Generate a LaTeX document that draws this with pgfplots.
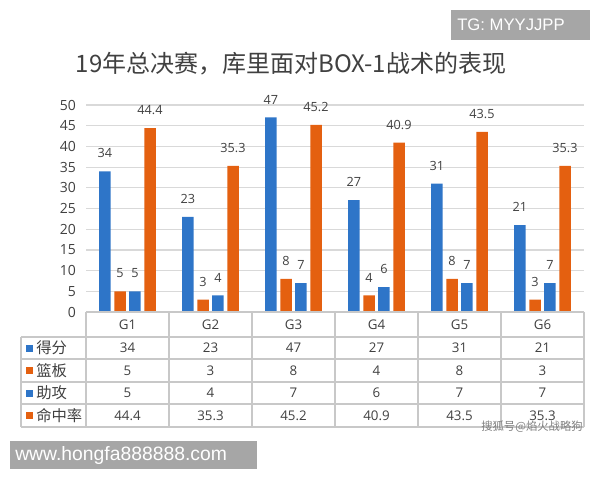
\documentclass[border=0pt]{standalone}
\usepackage{pgfplots}
\usepackage{pgfplotstable}
\pgfplotsset{compat=1.18}
\usepackage{fontspec}
\setmainfont{Open Sans}
\newfontfamily\cjk{Noto Sans CJK SC}
\newfontfamily\arial{Liberation Sans}

\definecolor{cblue}{RGB}{46,117,200}
\definecolor{corange}{RGB}{228,96,16}
\definecolor{gridc}{RGB}{217,217,217}
\definecolor{tabc}{RGB}{200,200,200}
\definecolor{txt}{RGB}{64,64,64}
\definecolor{wm}{RGB}{166,166,166}

% 1 px of the reference = 0.75pt
\def\px#1{#1*0.75pt}

\pgfplotstableread{
g score reb ast fg
0 34 5 5 44.4
1 23 3 4 35.3
2 47 8 7 45.2
3 27 4 6 40.9
4 31 8 7 43.5
5 21 3 7 35.3
}\data

\begin{document}
\begin{tikzpicture}
\path[use as bounding box] (0,0) rectangle (450pt,-360pt);

% title
\node[text=txt, font=\cjk\fontsize{18}{20}\selectfont] at (\px{291},-\px{64})
  {19年总决赛，库里面对BOX-1战术的表现};

\begin{axis}[
    at={(\px{86},-\px{312})}, anchor=south west,
    scale only axis, width=373.5pt, height=155.25pt,
    xmin=-0.5, xmax=5.5, ymin=0, ymax=50,
    ytick={0,5,...,50},
    xtick={0,...,5}, xticklabels={G1,G2,G3,G4,G5,G6},
    axis line style={draw=none}, major tick length=0pt,
    ymajorgrids, grid style={gridc, line width=0.9pt},
    tick label style={font=\fontsize{10.5}{12}\selectfont, text=txt},
    xticklabel style={font=\fontsize{10}{12}\selectfont},
    /pgf/number format/assume math mode=true,
    yticklabel style={xshift=-4pt},
    xticklabel style={anchor=center, yshift=-9.4pt},
    clip=false,
    bar width=8.6pt,
    every node near coord/.append style={font=\fontsize{9.5}{11}\selectfont, text=txt},
  ]
  % bars
  \addplot[ybar, bar shift=-16.9pt, fill=cblue, draw=none,
    nodes near coords, nodes near coords style={anchor=south, inner sep=0pt, yshift=9.8pt, xshift=-16.9pt}]
    table[x=g, y=score]{\data};
  \addplot[ybar, bar shift=-5.6pt, fill=corange, draw=none,
    nodes near coords, nodes near coords style={anchor=south, inner sep=0pt, yshift=9.8pt, xshift=-5.6pt}]
    table[x=g, y=reb]{\data};
  \addplot[ybar, bar shift=5.6pt, fill=cblue, draw=none,
    nodes near coords, nodes near coords style={anchor=south, inner sep=0pt, yshift=9.8pt, xshift=5.6pt}]
    table[x=g, y=ast]{\data};
  \addplot[ybar, bar shift=16.9pt, fill=corange, draw=none,
    nodes near coords, nodes near coords style={anchor=south, inner sep=0pt, yshift=9.8pt, xshift=16.9pt}]
    table[x=g, y=fg]{\data};

  % data table values
  \addplot[draw=none, mark=none, point meta=explicit, nodes near coords,
    nodes near coords style={anchor=center, inner sep=0pt, font=\fontsize{10}{12}\selectfont}]
    table[x=g, y expr=-8.7, meta=score]{\data};
  \addplot[draw=none, mark=none, point meta=explicit, nodes near coords,
    nodes near coords style={anchor=center, inner sep=0pt, font=\fontsize{10}{12}\selectfont}]
    table[x=g, y expr=-14.13, meta=reb]{\data};
  \addplot[draw=none, mark=none, point meta=explicit, nodes near coords,
    nodes near coords style={anchor=center, inner sep=0pt, font=\fontsize{10}{12}\selectfont}]
    table[x=g, y expr=-19.57, meta=ast]{\data};
  \addplot[draw=none, mark=none, point meta=explicit, nodes near coords,
    nodes near coords style={anchor=center, inner sep=0pt, font=\fontsize{10}{12}\selectfont}]
    table[x=g, y expr=-25.0, meta=fg]{\data};
\end{axis}

% table grid
\begin{scope}[draw=tabc, line width=0.8pt]
  \draw (\px{86},-\px{312}) -- (\px{584},-\px{312});
  \foreach \yy in {337,359,382,404,427}
    \draw (\px{21},-\px{\yy}) -- (\px{584},-\px{\yy});
  \draw (\px{21},-\px{337}) -- (\px{21},-\px{427});
  \foreach \xx in {86,169,252,335,418,501,584}
    \draw (\px{\xx},-\px{312}) -- (\px{\xx},-\px{427});
\end{scope}

% row labels
\foreach \yc/\col/\lab in {348/cblue/得分, 370.5/corange/篮板, 393/cblue/助攻, 415.5/corange/命中率} {
  \fill[\col] (\px{26},-\px{\yc}+\px{3.5}) rectangle (\px{33},-\px{\yc}-\px{3.5});
  \node[anchor=west, inner sep=0pt, text=txt, font=\cjk\fontsize{11.5}{13}\selectfont]
    at (\px{36},-\px{\yc}) {\lab};
}

% watermarks
\fill[wm] (\px{451},-\px{10}) rectangle (\px{590},-\px{40});
\node[anchor=west, inner sep=0pt, text=white, font=\arial\fontsize{12.5}{14}\selectfont]
  at (\px{457},-\px{25}) {TG: MYYJJPP};
\fill[wm] (\px{10},-\px{441}) rectangle (\px{257},-\px{469});
\node[anchor=west, inner sep=0pt, text=white, font=\arial\fontsize{14.5}{16}\selectfont]
  at (\px{15},-\px{455}) {www.hongfa888888.com};
\node[text=gray, font=\cjk\fontsize{8.5}{10}\selectfont]
  at (\px{532},-\px{427}) {搜狐号@焰火战略狗};
\end{tikzpicture}
\end{document}
